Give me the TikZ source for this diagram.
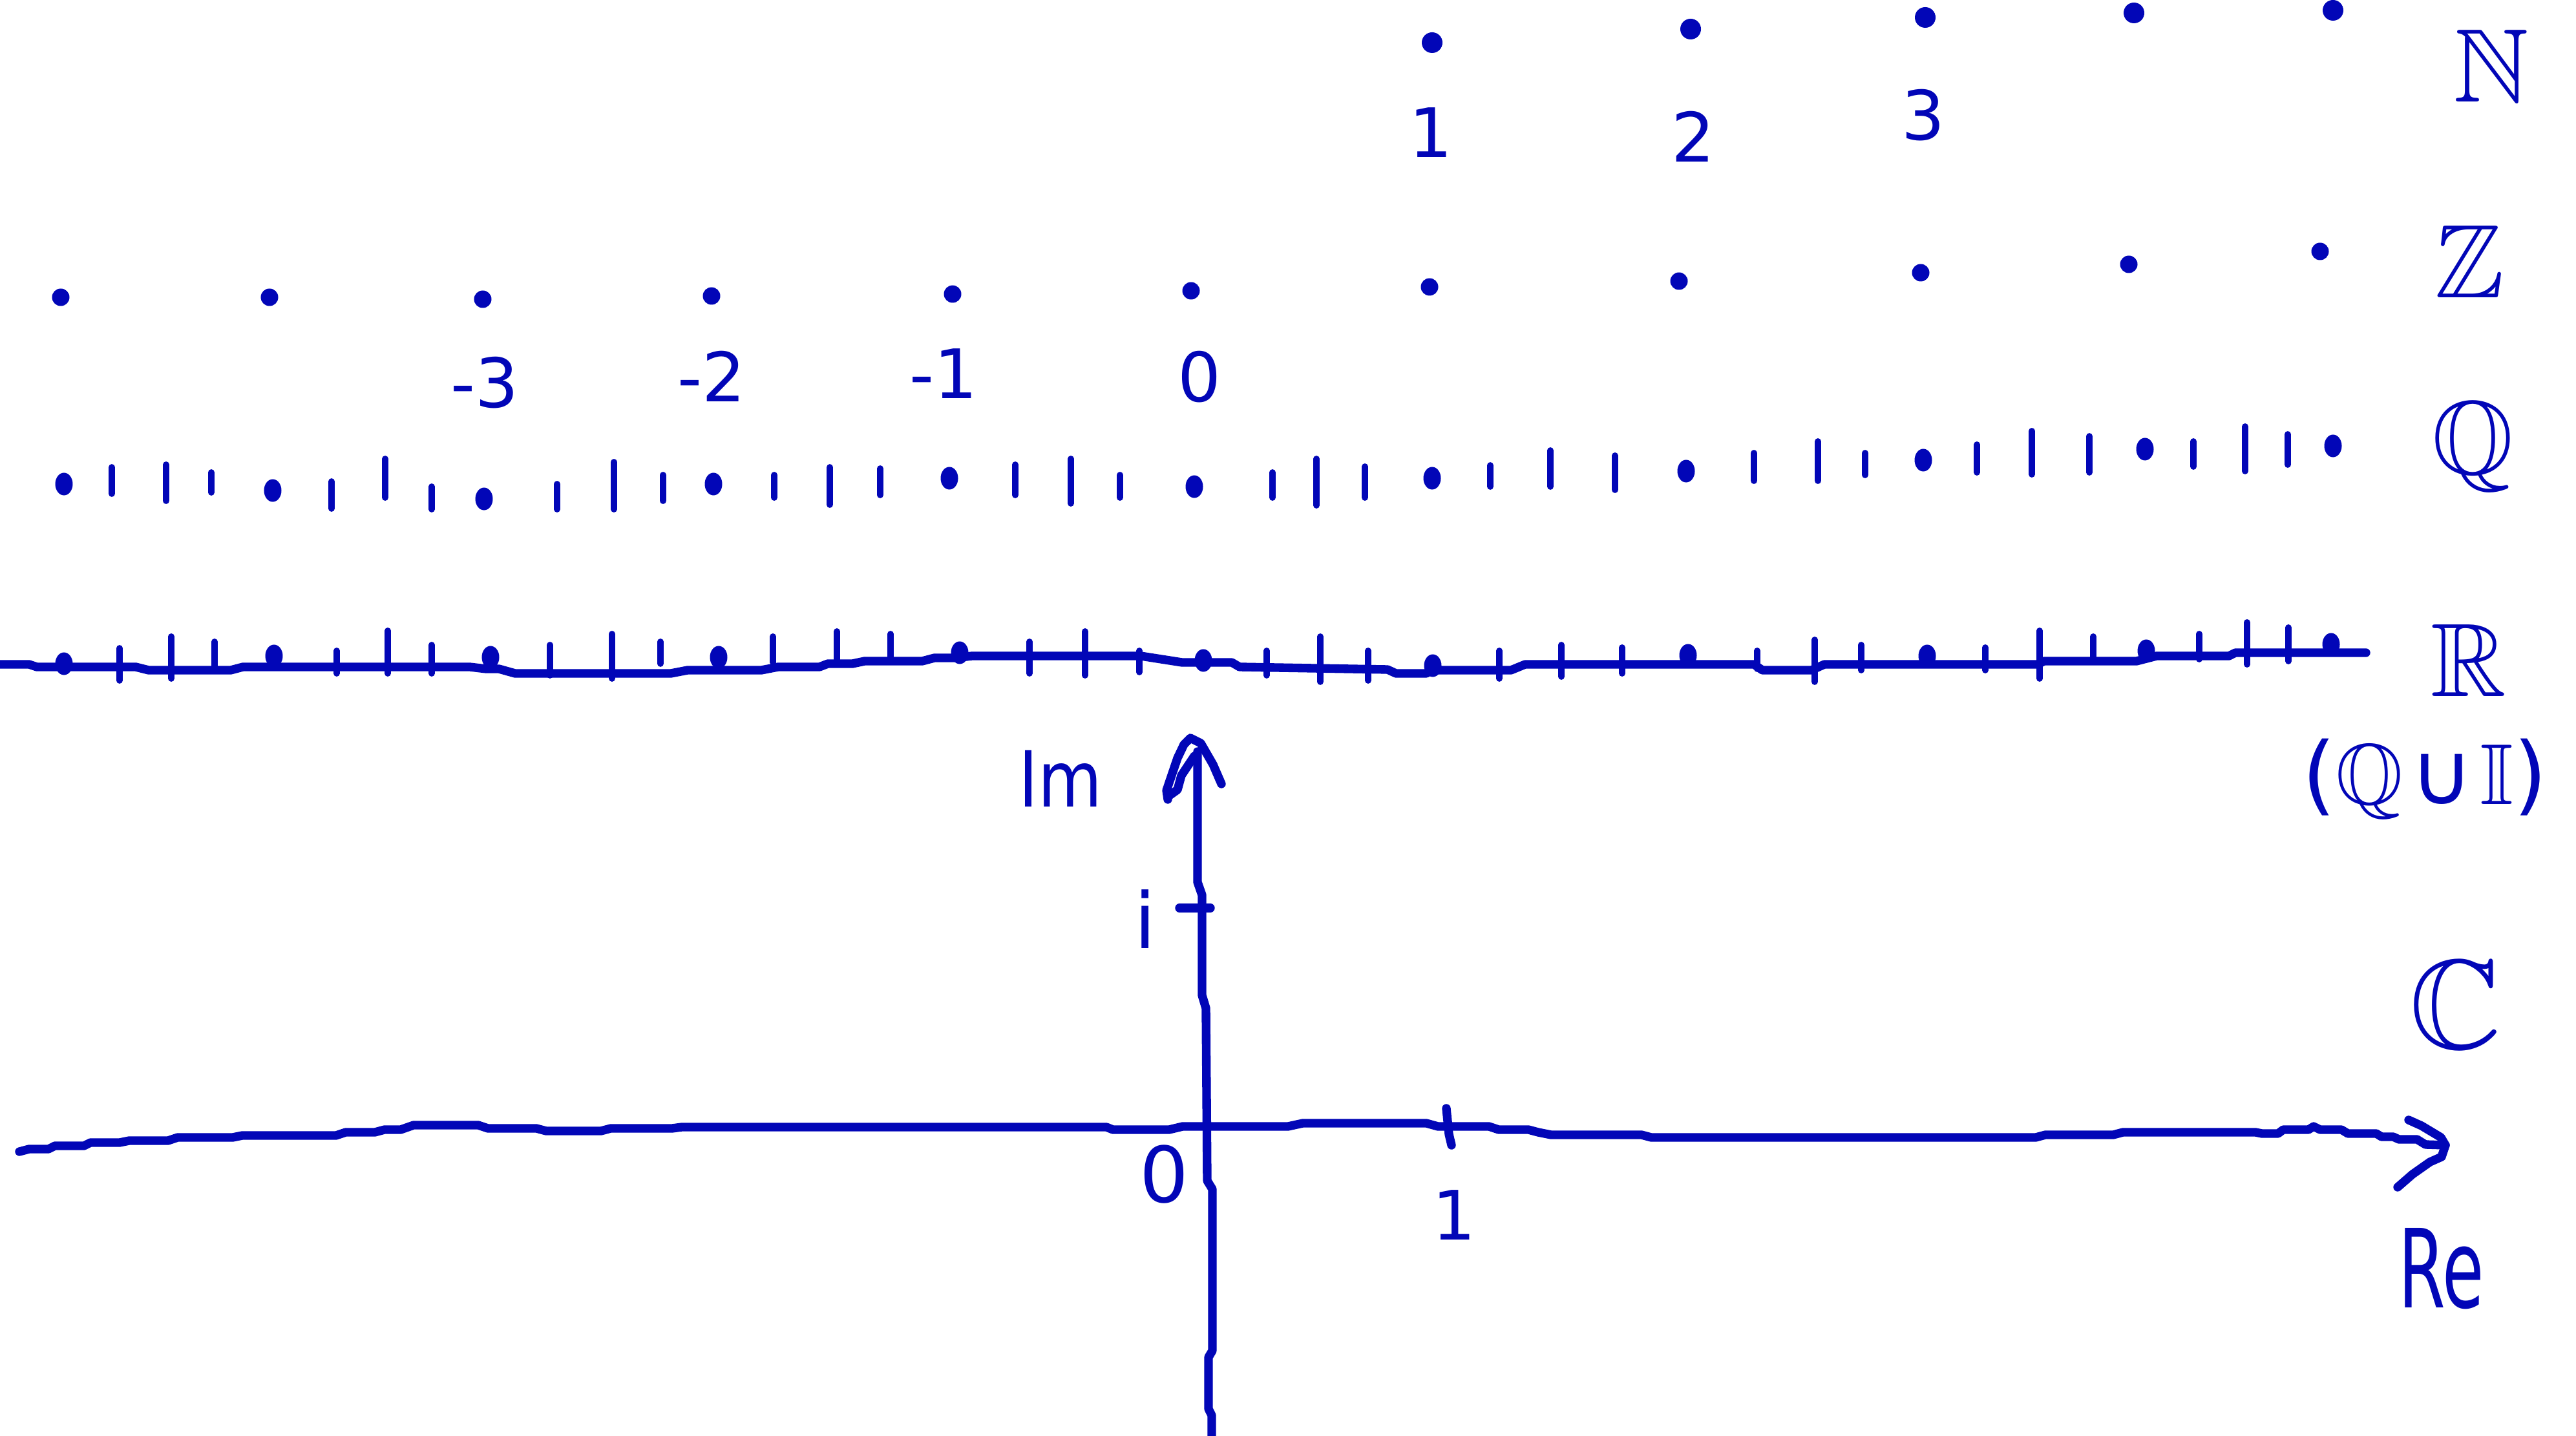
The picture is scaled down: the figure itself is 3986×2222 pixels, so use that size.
\documentclass[tikz,border=0pt]{standalone}
\usepackage{fontspec}
\setmainfont{DejaVu Sans}
\usepackage{amssymb}
\usepackage{graphicx}
\usetikzlibrary{shapes.geometric}
\definecolor{ink}{RGB}{2,6,183}
\begin{document}
\begin{tikzpicture}[x=0.01cm,y=-0.01cm, line cap=round, line join=round,
  pen/.style={draw=ink, line width=3.8pt},
  thinpen/.style={draw=ink, line width=2.8pt},
  bigdot/.style={fill=ink, circle, inner sep=0pt, minimum size=0.32cm},
  dotmark/.style={fill=ink, circle, inner sep=0pt, minimum size=0.27cm},
  blob/.style={fill=ink, ellipse, inner sep=0pt, minimum width=0.27cm, minimum height=0.35cm},
  numlbl/.style={text=ink, inner sep=0pt, font=\fontsize{30}{32}\selectfont},
  setlbl/.style={text=ink, inner sep=0pt, font=\fontsize{46}{50}\selectfont}]
\useasboundingbox (0,0) rectangle (3986,2222);

% ---------- N ----------
\foreach \x/\y [count=\i] in {2216/66, 2616/45, 2979/27, 3302/20, 3610/16}
  \node[bigdot] (n\i) at (\x,\y) {};
\node[numlbl] (n1l) at (2214,205) {1};
\node[numlbl] (n2l) at (2620,211) {2};
\node[numlbl] (n3l) at (2976,178) {3};
\node[setlbl] (setN) at (3855,102) {$\mathbb{N}$};

% ---------- Z ----------
\foreach \x/\y [count=\i] in {94/460, 417/460, 747/463, 1101/458, 1474/455, 1843/450,
   2212/444, 2598/435, 2972/422, 3294/409, 3590/389}
  \node[dotmark] (z\i) at (\x,\y) {};
\node[numlbl] (zm3) at (750,592) {-3};
\node[numlbl] (zm2) at (1101,582) {-2};
\node[numlbl] (zm1) at (1460,578) {-1};
\node[numlbl] (z0l) at (1856,583) {0};
\node[setlbl] (setZ) at (3821,405) {$\mathbb{Z}$};

% ---------- Q ----------
\foreach \x/\a/\b in {173/723/764, 257/719/775, 327/731/762, 513/745/787, 596/710/770,
   668/753/788, 862/749/788, 950/715/788, 1026/735/775, 1198/735/770, 1284/723/781,
   1362/725/766, 1571/719/766, 1657/710/779, 1733/735/770, 1969/731/770, 2037/710/782,
   2112/722/770, 2306/720/753, 2399/697/753, 2499/705/758, 2714/701/744, 2813/683/744,
   2886/701/735, 3059/688/731, 3144/667/734, 3233/675/731, 3394/683/722, 3474/660/729,
   3540/672/719}
  \draw[thinpen] (\x,\a) -- (\x,\b);
\foreach \x/\y [count=\i] in {99/749, 422/759, 749/772, 1104/749, 1469/740, 1848/753,
   2216/740, 2609/729, 2976/712, 3319/695, 3610/690}
  \node[blob] (q\i) at (\x,\y) {};
\node[setlbl] (setQ) at (3826,691) {$\mathbb{Q}$};

% ---------- R ----------
\draw[pen] (0,1028) -- (45,1028) -- (57,1032) -- (210,1032) -- (230,1037) -- (357,1037)
  -- (376,1032) -- (727,1032) -- (752,1035) -- (772,1035) -- (797,1042) -- (1038,1042)
  -- (1064,1037) -- (1178,1037) -- (1204,1032) -- (1268,1032) -- (1281,1027) -- (1319,1027)
  -- (1338,1023) -- (1427,1023) -- (1446,1018) -- (1478,1018) -- (1504,1015) -- (1765,1015)
  -- (1797,1020) -- (1829,1025) -- (1906,1025) -- (1918,1032) -- (2147,1036) -- (2160,1042)
  -- (2207,1042) -- (2215,1037) -- (2338,1037) -- (2360,1028) -- (2714,1028) -- (2727,1037)
  -- (2803,1037) -- (2823,1028) -- (3153,1028) -- (3163,1023) -- (3306,1023) -- (3337,1015)
  -- (3449,1015) -- (3459,1010) -- (3661,1010);
\foreach \x/\a/\b in {185/1003/1053, 265/985/1050, 332/993/1032, 521/1007/1042, 600/976/1042,
   668/998/1042, 851/998/1045, 947/981/1050, 1022/993/1027, 1196/985/1025, 1295/977/1023,
   1378/981/1020, 1593/993/1042, 1679/977/1045, 1763/1007/1040, 1960/1007/1045,
   2043/985/1055, 2117/1007/1053, 2320/1007/1050, 2416/998/1047, 2510/1002/1042,
   2719/1007/1035, 2808/990/1055, 2880/998/1037, 3072/1002/1037, 3156/976/1050,
   3239/985/1017, 3403/981/1020, 3477/963/1028, 3541/971/1023}
  \draw[thinpen] (\x,\a) -- (\x,\b);
\foreach \x/\y [count=\i] in {99/1027, 424/1015, 759/1017, 1112/1017, 1485/1010, 1862/1022,
   2217/1030, 2612/1014, 2982/1015, 3321/1007, 3607/997}
  \node[blob] (r\i) at (\x,\y) {};
\node[setlbl] (setR) at (3820,1022) {$\mathbb{R}$};
\node[text=ink, inner sep=0pt, font=\fontsize{38}{42}\selectfont] (setQI) at (3752,1205)
  {($\mathbb{Q}$\kern0.08em∪\kern0.08em$\mathbb{I}$)};

% ---------- C ----------
\coordinate (reTip) at (3784,1772);
\coordinate (imTip) at (1842,1142);
\draw[pen] (30,1782) -- (45,1778) -- (75,1778) -- (85,1773) -- (130,1773) -- (140,1768)
  -- (185,1768) -- (200,1765) -- (260,1765) -- (275,1760) -- (360,1760) -- (375,1757)
  -- (520,1757) -- (535,1752) -- (580,1752) -- (595,1748) -- (620,1748) -- (640,1741)
  -- (740,1741) -- (755,1746) -- (830,1746) -- (845,1750) -- (930,1750) -- (945,1746)
  -- (1040,1746) -- (1055,1744) -- (1712,1744) -- (1722,1748) -- (1809,1748) -- (1830,1743)
  -- (1993,1743) -- (2016,1738) -- (2207,1738) -- (2225,1743) -- (2304,1743) -- (2319,1748)
  -- (2365,1748) -- (2380,1752) -- (2400,1756) -- (2540,1756) -- (2555,1760) -- (3150,1760)
  -- (3165,1756) -- (3270,1756) -- (3285,1752) -- (3490,1752) -- (3500,1754) -- (3525,1754)
  -- (3533,1748) -- (3572,1748) -- (3580,1743) -- (3590,1748) -- (3623,1748) -- (3633,1754)
  -- (3677,1754) -- (3685,1759) -- (3703,1759) -- (3712,1763) -- (3740,1763) -- (3753,1771)
  -- (reTip);
\draw[pen] (3727,1733) -- (3747,1742) -- (3777,1760) -- (reTip) -- (3778,1790)
  -- (3760,1798) -- (3733,1817) -- (3710,1837);
\draw[pen] (1875,2222) -- (1875,2190) -- (1870,2180) -- (1870,2100) -- (1876,2090)
  -- (1876,1840) -- (1868,1827) -- (1866,1560) -- (1860,1540) -- (1860,1385) -- (1853,1365)
  -- (1853,1163);
\draw[pen] (1807,1237) -- (1805,1223) -- (1822,1173) -- (1832,1152) -- (imTip) -- (1858,1150)
  -- (1877,1183) -- (1890,1213);
\draw[pen] (1808,1232) -- (1822,1222) -- (1828,1200) -- (1848,1170);
\draw[pen] (1825,1405) -- (1873,1405);
\draw[pen] (2238,1715) -- (2240,1735) -- (2242,1755) -- (2246,1772);
\node[numlbl, font=\fontsize{34}{36}\selectfont] (iL) at (1772,1422) {i};
\node[numlbl, font=\fontsize{34}{36}\selectfont] (imL) at (1641,1205) {\scalebox{0.85}[1]{Im}};
\node[numlbl, font=\fontsize{34}{36}\selectfont] (o0) at (1802,1817) {0};
\node[numlbl] (o1) at (2250,1880) {1};
\node[numlbl, font=\fontsize{48}{50}\selectfont] (reL) at (3778,1963) {\scalebox{0.62}[1]{Re}};
\node[setlbl, font=\fontsize{56}{60}\selectfont] (setC) at (3800,1555) {$\mathbb{C}$};
\end{tikzpicture}
\end{document}
